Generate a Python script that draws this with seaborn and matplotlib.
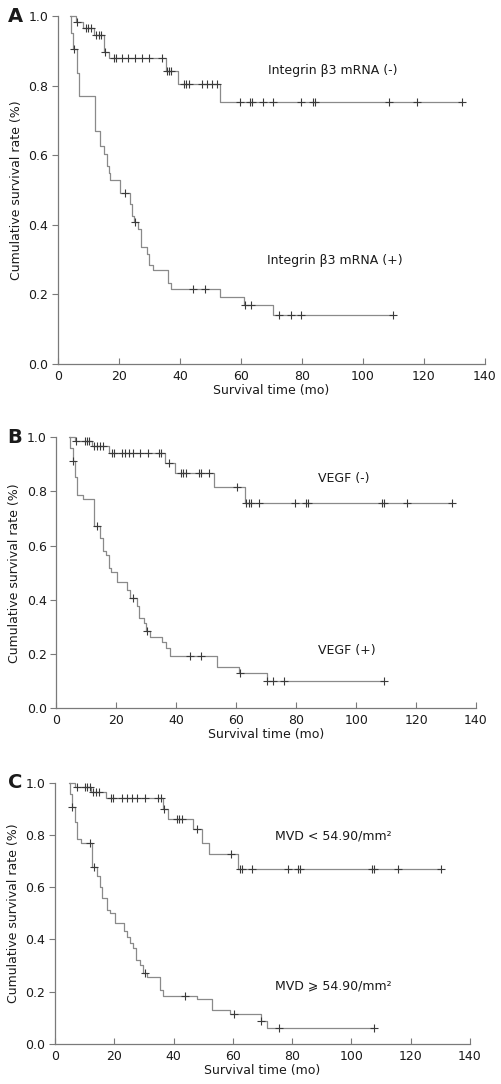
import numpy as np
import pandas as pd
import matplotlib
matplotlib.use("Agg")
import matplotlib.pyplot as plt
import seaborn as sns

# ---------------- data ----------------
# Panel A : Integrin b3 mRNA
a_neg_t = [4.0, 5.9, 8.2, 11.8, 15.0, 16.8, 35.4, 39.4, 53.2, 132.5]
a_neg_s = [1.0, 0.983, 0.966, 0.945, 0.897, 0.879, 0.842, 0.805, 0.752, 0.752]
a_neg_c = [6.3, 9.2, 9.9, 10.8, 12.5, 13.4, 14.0, 15.4, 18.2, 18.9, 21.0, 22.9, 25.1,
           27.5, 30.0, 34.1, 35.9, 36.5, 37.1, 41.2, 42.0, 43.0, 47.3, 48.9, 50.6, 52.2,
           59.6, 62.9, 63.6, 67.2, 70.6, 79.6, 83.5, 84.2, 108.6, 117.7, 132.5]

a_pos_t = [4.0, 4.2, 5.0, 6.3, 7.0, 12.2, 13.8, 15.1, 16.0, 16.8, 17.2, 20.2, 23.5, 24.2,
           24.8, 26.1, 27.2, 29.2, 30.0, 31.1, 36.1, 37.1, 53.1, 61.0, 70.6, 109.8]
a_pos_s = [1.0, 0.950, 0.904, 0.837, 0.771, 0.670, 0.626, 0.603, 0.570, 0.550, 0.529,
           0.490, 0.459, 0.425, 0.408, 0.389, 0.337, 0.316, 0.284, 0.270, 0.232, 0.215,
           0.192, 0.170, 0.141, 0.141]
a_pos_c = [5.1, 22.0, 25.1, 44.2, 48.1, 61.2, 63.4, 72.5, 76.5, 79.6, 109.8]

# Panel B : VEGF
b_neg_t = [4.3, 6.2, 11.8, 17.4, 36.3, 39.5, 52.5, 62.9, 131.9]
b_neg_s = [1.0, 0.987, 0.969, 0.941, 0.906, 0.867, 0.818, 0.756, 0.756]
b_neg_c = [6.6, 9.4, 10.2, 11.0, 12.4, 13.5, 14.6, 15.5, 18.6, 19.3, 21.9, 23.0, 24.1,
           25.4, 27.7, 30.4, 34.1, 34.9, 37.6, 41.6, 42.3, 43.1, 47.5, 48.3, 50.8, 60.2,
           63.3, 64.2, 65.0, 67.6, 79.5, 83.2, 84.0, 108.5, 109.4, 117.0, 131.9]

b_pos_t = [4.3, 4.6, 5.4, 6.3, 6.8, 8.8, 12.6, 14.6, 15.5, 16.6, 17.4, 18.3, 20.2, 23.5,
           24.4, 26.7, 27.4, 29.1, 30.0, 31.3, 35.3, 36.4, 37.8, 53.4, 60.8, 70.1, 109.4]
b_pos_s = [1.0, 0.959, 0.913, 0.852, 0.787, 0.772, 0.674, 0.627, 0.580, 0.565, 0.517,
           0.502, 0.467, 0.437, 0.406, 0.378, 0.334, 0.316, 0.285, 0.264, 0.246, 0.221,
           0.194, 0.151, 0.129, 0.101, 0.101]
b_pos_c = [5.5, 13.5, 25.5, 30.2, 44.5, 48.1, 61.2, 70.4, 72.4, 75.9, 109.4]

# Panel C : MVD
c_neg_t = [4.8, 6.7, 12.2, 17.2, 36.3, 38.2, 46.7, 49.5, 52.1, 61.8, 130.2]
c_neg_s = [1.0, 0.982, 0.966, 0.940, 0.898, 0.860, 0.821, 0.770, 0.726, 0.670, 0.670]
c_neg_c = [7.3, 10.1, 10.9, 11.7, 12.7, 13.8, 15.0, 18.8, 19.7, 22.5, 24.4, 25.9, 27.6,
           30.4, 34.9, 35.7, 36.8, 41.1, 41.9, 42.7, 48.0, 59.5, 62.4, 63.2, 66.4, 78.7,
           81.9, 82.7, 106.8, 107.6, 115.8, 130.2]

c_pos_t = [4.8, 5.0, 5.8, 6.7, 7.5, 8.7, 12.4, 14.3, 15.2, 15.8, 17.4, 18.6, 20.2, 23.3,
           24.4, 25.3, 26.4, 27.3, 28.7, 29.6, 31.1, 35.4, 36.5, 48.0, 52.9, 59.0, 69.4,
           71.4, 107.6]
c_pos_s = [1.0, 0.957, 0.908, 0.849, 0.785, 0.770, 0.676, 0.643, 0.600, 0.560, 0.513,
           0.500, 0.464, 0.434, 0.408, 0.388, 0.366, 0.321, 0.302, 0.273, 0.255, 0.207,
           0.185, 0.172, 0.130, 0.114, 0.089, 0.060, 0.060]
c_pos_c = [5.9, 11.7, 13.3, 30.4, 43.9, 60.5, 69.6, 75.7, 107.6]

x_ticks = [0, 20, 40, 60, 80, 100, 120, 140]
y_ticks = [0.0, 0.2, 0.4, 0.6, 0.8, 1.0]

panel_letters = ["A", "B", "C"]
labels_neg = ["Integrin \u03b23 mRNA (-)", "VEGF (-)", "MVD < 54.90/mm\u00b2"]
labels_pos = ["Integrin \u03b23 mRNA (+)", "VEGF (+)", "MVD \u2a7e 54.90/mm\u00b2"]
label_neg_pos = [(68.8, 0.843), (87.3, 0.849), (74.2, 0.796)]
label_pos_pos = [(68.6, 0.296), (87.3, 0.215), (74.2, 0.223)]

xlabel = "Survival time (mo)"
ylabel = "Cumulative survival rate (%)"

# ---------------- style ----------------
sns.set_style("ticks")
plt.rcParams["font.family"] = ["DejaVu Sans", "Noto Sans", "Noto Sans CJK SC"]

W, H = 502, 1084
fig = plt.figure(figsize=(W / 100, H / 100), dpi=100)
fig.patch.set_facecolor("white")

# axes boxes in pixels: (x0, x1, top, bottom)
boxes = [(58, 485, 16, 364), (56.5, 476, 437.3, 708.3), (55, 470, 782.7, 1044)]

curves = [
    ((a_neg_t, a_neg_s, a_neg_c), (a_pos_t, a_pos_s, a_pos_c)),
    ((b_neg_t, b_neg_s, b_neg_c), (b_pos_t, b_pos_s, b_pos_c)),
    ((c_neg_t, c_neg_s, c_neg_c), (c_pos_t, c_pos_s, c_pos_c)),
]

line_col = "#8a8a8a"
mark_col = "#3a3a3a"
axis_col = "#7a7a7a"
text_col = "#1a1a1a"


def censor_vals(t, s, c):
    t = np.asarray(t)
    s = np.asarray(s)
    idx = np.searchsorted(t, np.asarray(c), side="right") - 1
    idx = np.clip(idx, 0, len(s) - 1)
    return s[idx]


for i, (x0, x1, top, bot) in enumerate(boxes):
    ax = fig.add_axes([x0 / W, 1 - bot / H, (x1 - x0) / W, (bot - top) / H])
    ax.set_facecolor("white")
    for (t, s, c) in curves[i]:
        df = pd.DataFrame({"t": t, "s": s})
        sns.lineplot(data=df, x="t", y="s", ax=ax, estimator=None, sort=False,
                     drawstyle="steps-post", color=line_col, linewidth=0.9,
                     clip_on=False)
        dc = pd.DataFrame({"t": c, "s": censor_vals(t, s, c)})
        sns.scatterplot(data=dc, x="t", y="s", ax=ax, marker="+", s=38,
                        color=mark_col, linewidth=0.8, clip_on=False, zorder=3)

    ax.set_xlim(0, 140)
    ax.set_ylim(0, 1.0)
    ax.set_xticks(x_ticks)
    ax.set_yticks(y_ticks)
    ax.set_yticklabels([f"{v:.1f}" for v in y_ticks])
    ax.tick_params(axis="x", which="major", bottom=True, direction="in", length=4,
                   width=0.8, color=axis_col, labelsize=9, labelcolor=text_col, pad=4)
    ax.tick_params(axis="y", which="major", left=True, direction="out", length=4,
                   width=0.8, color=axis_col, labelsize=9, labelcolor=text_col, pad=3)
    for sp in ["top", "right"]:
        ax.spines[sp].set_visible(False)
    for sp in ["left", "bottom"]:
        ax.spines[sp].set_color(axis_col)
        ax.spines[sp].set_linewidth(0.9)
    ax.set_xlabel(xlabel, fontsize=9, color=text_col, labelpad=1)
    ax.set_ylabel(ylabel, fontsize=9, color=text_col, labelpad=4)

    ax.text(*label_neg_pos[i], labels_neg[i], fontsize=9, color=text_col,
            ha="left", va="center")
    ax.text(*label_pos_pos[i], labels_pos[i], fontsize=9, color=text_col,
            ha="left", va="center")

    fig.text(15 / W, 1 - top / H, panel_letters[i], fontsize=14, fontweight="bold",
             color=text_col, ha="center", va="center")

fig.savefig("out.png", dpi=100, facecolor="white")
